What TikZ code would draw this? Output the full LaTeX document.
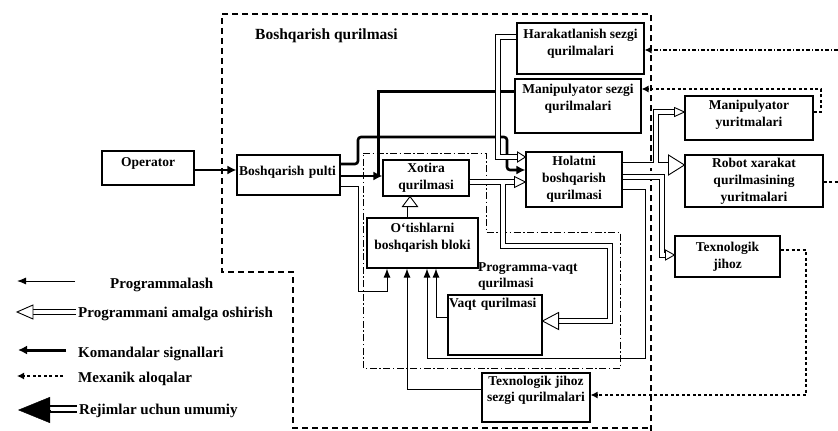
\documentclass[tikz,border=0pt]{standalone}
\usepackage{fontspec}
\setmainfont{Liberation Serif}
\usetikzlibrary{arrows.meta,calc}
\newcommand\bxf{\fontsize{13.5}{17}\selectfont\bfseries}
\newcommand\bxg{\fontsize{13.5}{16}\selectfont\bfseries}
\newcommand\ttlf{\fontsize{15.5}{18}\selectfont\bfseries}
\newcommand\lgf{\fontsize{15}{18}\selectfont\bfseries}
\begin{document}
\begin{tikzpicture}[x=1pt,y=-1pt,
 box/.style={draw, line width=1.1pt, inner xsep=1pt, inner ysep=1pt, align=center, font=\bxf},
 prog/.style={line width=1pt, -{Latex[length=9pt,width=7pt]}},
 cmd/.style={line width=2.6pt, -{Latex[length=9pt,width=9pt]}},
 thickline/.style={line width=3pt, line join=miter},
 mech/.style={line width=1.3pt, dash pattern=on 3pt off 2.5pt, -{Latex[length=7pt,width=7pt]}},
 mechl/.style={line width=1.3pt, dash pattern=on 3pt off 2.5pt},
 dbl/.style={draw, double=white, double distance=#1, line width=0.9pt},
 dbl/.default=3.5pt,
 outer/.style={line width=1.3pt, dash pattern=on 6pt off 4pt},
 dashdot/.style={line width=1pt, dash pattern=on 7pt off 2.5pt on 1.5pt off 2.5pt},
 lg/.style={font=\lgf, anchor=west, inner sep=0pt},
 pics/hh/.style 2 args={code={\draw[fill=white, line width=0.9pt] (0,0) -- (-#1,#2/2) -- (-#1,-#2/2) -- cycle;}},
]
\useasboundingbox (0,0) rectangle (838,431);

% boundaries
\draw[outer] (651,431) -- (651,14) -- (222,14) -- (222,272) -- (293,272) -- (293,428) -- (651,428);
\draw[dashdot] (363,153) -- (486,153) -- (486,232) -- (620,232) -- (620,368) -- (363,368) -- cycle;
\node[font=\ttlf, anchor=west, inner sep=0pt] (ttl) at (255,36) {Boshqarish qurilmasi};
\node[font=\bxg, align=left, anchor=north west, inner sep=0pt] (pvq) at (478,262) {Programma-vaqt\\qurilmasi};

% boxes
\node[box, minimum width=92pt, minimum height=34pt, text depth=11.5pt] (op) at (148,168) {Operator};
\node[box, minimum width=103pt, minimum height=40pt, text depth=7.5pt, text width=99pt, align=left] (pulti) at (288.5,175) {Boshqarish pulti};
\node[box, minimum width=86pt, minimum height=36pt] (xot) at (426,178) {Xotira\\qurilmasi};
\node[box, minimum width=111pt, minimum height=50pt, text depth=12.5pt] (otish) at (422.5,243) {O‘tishlarni\\boshqarish bloki};
\node[box, minimum width=96pt, minimum height=55pt] (hol) at (574,179.5) {Holatni\\boshqarish\\qurilmasi};
\node[box, minimum width=127pt, minimum height=51pt, text depth=12.5pt] (hara) at (580.5,48.5) {Harakatlanish sezgi\\qurilmalari};
\node[box, minimum width=126pt, minimum height=54pt, text depth=17pt] (mans) at (578,106) {Manipulyator sezgi\\qurilmalari};
\node[box, minimum width=128pt, minimum height=44pt, text depth=8.5pt] (many) at (749,118) {Manipulyator\\yuritmalari};
\node[box, minimum width=138pt, minimum height=52pt] (robot) at (754,181) {Robot xarakat\\qurilmasining\\yuritmalari};
\node[box, minimum width=105pt, minimum height=41pt] (texj) at (727.5,256.5) {Texnologik\\jihoz};
\node[box, minimum width=94pt, minimum height=60pt, text depth=44pt, text width=92pt, align=left] (vaqt) at (495,325) {Vaqt qurilmasi};
\node[box, font=\bxg, minimum width=108pt, minimum height=49pt, text depth=18pt] (texs) at (536,397.5) {Texnologik jihoz\\sezgi qurilmalari};

% command signals (thick)
\draw[cmd] (op.east |- 0,170) -- (pulti.west |- 0,170);
\draw[cmd, rounded corners=3pt] (pulti.east |- 0,164) -- (358,164) -- (358,137) -- (507,137) -- (507,170) -- (hol.west |- 0,170);
\draw[thickline] (mans.west |- 0,91) -- (378,91) -- (378,176);
\draw[cmd] (pulti.east |- 0,176) -- (xot.west |- 0,176);

% programme execution (hollow)
\draw[dbl=4.5pt, shorten >=15pt] (xot.east |- 0,182) -- (503,182) -- (503,246) -- (610,246) -- (610,321) -- (vaqt.east |- 0,321);
\pic[rotate=180] at (vaqt.east |- 0,321) {hh={16}{17}};
\draw[dbl=4pt, shorten >=10pt] (xot.east |- 0,182) -- (hol.west |- 0,182);
\pic at (hol.west |- 0,182) {hh={11}{11}};
\draw[white, line width=4.5pt] (503,183.5) -- (503,190);
\draw[dbl=5pt, shorten >=9pt] (410,0 |- otish.north) -- (410,0 |- xot.south);
\pic[rotate=90] at (410,0 |- xot.south) {hh={10}{15}};
\draw[dbl=4.5pt, shorten >=7pt] (hara.west |- 0,37) -- (498,37) -- (498,157) -- (hol.west |- 0,157);
\pic at (hol.west |- 0,157) {hh={8}{10}};
\draw[dbl=3.5pt, shorten >=9pt] (hol.east |- 0,165) -- (656,165) -- (656,112) -- (many.west |- 0,112);
\pic at (many.west |- 0,112) {hh={10}{9}};
\draw[dbl=5pt, shorten >=15pt] (hol.east |- 0,165) -- (robot.west |- 0,165);
\pic at (robot.west |- 0,165) {hh={16}{20}};
\draw[white, line width=3.5pt] (656,163.5) -- (656,158);
\draw[dbl=3.5pt, shorten >=8pt] (hol.east |- 0,177) -- (662,177) -- (662,255) -- (texj.west |- 0,255);
\pic at (texj.west |- 0,255) {hh={9}{10}};

% programming (thin)
\draw[prog] (pulti.east |- 0,186) -- (358,186) -- (358,291) -- (387,291) -- (387,0 |- otish.south);
\draw[prog] (texs.west |- 0,389) -- (407,389) -- (407,0 |- otish.south);
\draw[prog] (hol.east |- 0,189) -- (645,189) -- (645,358) -- (427,358) -- (427,0 |- otish.south);
\draw[prog] (vaqt.west |- 0,317) -- (436,317) -- (436,0 |- otish.south);

% mechanical links
\coordinate (fe1) at (838,50);
\coordinate (fe2) at (838,182);
\draw[mech, dash pattern=on 4pt off 2pt on 1.5pt off 2pt] (fe1) -- (hara.east |- 0,50);
\draw[mech] (many.east |- 0,112) -- (821,112) -- (821,89) -- (mans.east |- 0,89);
\draw[mechl] (robot.east |- 0,182) -- (fe2);
\draw[mech] (texj.east |- 0,250) -- (806,250) -- (806,395) -- (texs.east |- 0,395);

% legend
\coordinate (l1a) at (75,281); \coordinate (l1b) at (17,281);
\draw[prog] (l1a) -- (l1b);
\node[lg] (l1) at (110,285) {Programmalash};
\coordinate (l2a) at (76,312); \coordinate (l2b) at (17,312);
\draw[dbl=4pt, shorten >=15pt] (l2a) -- (l2b);
\pic[rotate=180] at (l2b) {hh={16}{14}};
\node[lg] (l2) at (78,314) {Programmani amalga oshirish};
\coordinate (l3a) at (66,350); \coordinate (l3b) at (18,350);
\draw[cmd, line width=3pt] (l3a) -- (l3b);
\node[lg] (l3) at (78,354) {Komandalar signallari};
\coordinate (l4a) at (63,376); \coordinate (l4b) at (17,376);
\draw[mech] (l4a) -- (l4b);
\node[lg] (l4) at (78,379) {Mexanik aloqalar};
\coordinate (l5a) at (77,409); \coordinate (l5b) at (18,410);
\draw[line width=1.8pt, double=white, double distance=4pt] (l5a) -- (46,409);
\draw[-{Triangle[length=32pt,width=26pt]}] ($(l5b)+(32,0)$) -- (l5b);
\node[lg] (l5) at (79,411) {Rejimlar uchun umumiy};
\end{tikzpicture}
\end{document}
